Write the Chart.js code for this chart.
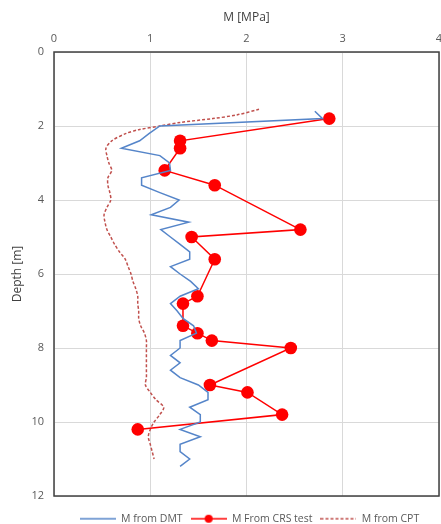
<!DOCTYPE html>
<html>
<head>
<meta charset="utf-8">
<script src="https://cdn.jsdelivr.net/npm/chart.js@4.4.1/dist/chart.umd.min.js"></script>
<style>
  html, body { margin: 0; padding: 0; background: #fff; }
  #wrap { width: 441px; height: 524px; }
</style>
</head>
<body>
<div id="wrap"><canvas id="depthChart"></canvas></div>
<script>
// M from DMT (every 0.2 m)
const dmtDepth = [1.6, 1.8, 2.0, 2.2, 2.4, 2.6, 2.8, 3.0, 3.2, 3.4, 3.6, 3.8, 4.0, 4.2, 4.4, 4.6, 4.8,
  5.0, 5.2, 5.4, 5.6, 5.8, 6.0, 6.2, 6.4, 6.6, 6.8, 7.0, 7.2, 7.4, 7.6, 7.8, 8.0, 8.2, 8.4, 8.6,
  8.8, 9.0, 9.2, 9.4, 9.6, 9.8, 10.0, 10.2, 10.4, 10.6, 10.8, 11.0, 11.2];
const dmtM = [2.71, 2.79, 1.10, 0.99, 0.89, 0.70, 1.10, 1.20, 1.21, 0.91, 0.91, 1.10, 1.30, 1.21, 1.01, 1.40, 1.11,
  1.21, 1.31, 1.41, 1.41, 1.21, 1.31, 1.42, 1.50, 1.31, 1.21, 1.28, 1.34, 1.45, 1.48, 1.31, 1.31, 1.21, 1.31, 1.21,
  1.31, 1.50, 1.60, 1.60, 1.41, 1.52, 1.52, 1.31, 1.52, 1.31, 1.31, 1.41, 1.31];

// M from CRS test
const crsDepth = [1.8, 2.4, 2.6, 3.2, 3.6, 4.8, 5.0, 5.6, 6.6, 6.8, 7.4, 7.6, 7.8, 8.0, 9.0, 9.2, 9.8, 10.2];
const crsM = [2.86, 1.31, 1.31, 1.15, 1.67, 2.56, 1.43, 1.67, 1.49, 1.34, 1.34, 1.49, 1.64, 2.46, 1.62, 2.01, 2.37, 0.87];

// M from CPT
const cptDepth = [1.55, 1.7, 1.8, 1.9, 2.0, 2.1, 2.2, 2.4, 2.6, 2.8, 3.0, 3.2, 3.4, 3.6, 3.8, 4.0, 4.2, 4.4, 4.6, 4.8,
  5.0, 5.2, 5.4, 5.6, 5.8, 6.0, 6.2, 6.4, 6.6, 6.8, 7.0, 7.2, 7.4, 7.6, 7.8, 8.0, 8.2, 8.4, 8.6,
  8.8, 9.0, 9.2, 9.4, 9.6, 9.8, 10.0, 10.2, 10.4, 10.6, 10.8, 11.0];
const cptM = [2.13, 1.90, 1.65, 1.32, 1.10, 0.88, 0.75, 0.60, 0.54, 0.55, 0.57, 0.60, 0.56, 0.56, 0.58, 0.59, 0.55, 0.52, 0.53, 0.55,
  0.59, 0.63, 0.68, 0.74, 0.77, 0.80, 0.82, 0.85, 0.87, 0.87, 0.88, 0.88, 0.90, 0.94, 0.96, 0.96, 0.96, 0.96, 0.96,
  0.96, 0.95, 1.00, 1.06, 1.14, 1.10, 1.04, 1.00, 0.98, 1.00, 1.02, 1.04];

const seriesNames = ["M from DMT", "M From CRS test", "M from CPT"];
const xMin = 0, xMax = 4, xStep = 1;
const yMin = 0, yMax = 12, yStep = 2;

const colors = {
  dmt: "#5585c9",
  crs: "#ff0000",
  cpt: "#c0504d",
  grid: "#d9d9d9",
  tick: "#595959",
  title: "#404040",
};

function toPoints(depths, values) {
  return depths.map((d, i) => ({ x: values[i], y: d }));
}

// small canvas used as legend symbol
function legendIcon(color, dash, dot) {
  const c = document.createElement("canvas");
  c.width = 36;
  c.height = 12;
  const g = c.getContext("2d");
  g.strokeStyle = color;
  g.lineWidth = 1.5;
  g.setLineDash(dash);
  g.beginPath();
  g.moveTo(0, 6);
  g.lineTo(36, 6);
  g.stroke();
  if (dot) {
    g.fillStyle = color;
    g.beginPath();
    g.arc(18, 6, 4, 0, Math.PI * 2);
    g.fill();
  }
  return c;
}

const icons = [
  legendIcon(colors.dmt, [], false),
  legendIcon(colors.crs, [], true),
  legendIcon(colors.cpt, [3, 2], false),
];

// frame round the plot area
const plotFrame = {
  id: "plotFrame",
  beforeDatasetsDraw(chart) {
    const { ctx, chartArea: a } = chart;
    ctx.save();
    ctx.strokeStyle = "#404040";
    ctx.lineWidth = 1.5;
    ctx.strokeRect(a.left, a.top, a.right - a.left, a.bottom - a.top);
    ctx.restore();
  },
};

// stretch the plot to the right edge (the "4" label may be clipped, as in the original)
// and move the legend lower and a bit right
const layoutFix = {
  id: "layoutFix",
  afterLayout(chart) {
    const area = chart.chartArea;
    const xs = chart.scales.x;
    const ys = chart.scales.y;
    const dx = chart.width - 2 - area.right;
    const dy = chart.height - 28 - area.bottom;
    area.right += dx;
    area.width += dx;
    area.bottom += dy;
    area.height += dy;
    xs.right += dx;
    xs.width += dx;
    ys.bottom += dy;
    ys.height += dy;
    xs.configure();
    ys.configure();

    const lg = chart.legend;
    lg.top += 10;
    lg.bottom += 10;
    lg.left += 28;
    lg.right += 28;
  },
};

const fontFamily = "'Open Sans', 'Liberation Sans', sans-serif";

new Chart(document.getElementById("depthChart"), {
  type: "scatter",
  data: {
    datasets: [
      {
        label: seriesNames[0],
        data: toPoints(dmtDepth, dmtM),
        showLine: true,
        borderColor: colors.dmt,
        borderWidth: 1.5,
        pointRadius: 0,
        tension: 0,
      },
      {
        label: seriesNames[1],
        data: toPoints(crsDepth, crsM),
        showLine: true,
        borderColor: colors.crs,
        backgroundColor: colors.crs,
        borderWidth: 1.5,
        pointRadius: 6.3,
        pointBorderWidth: 0,
        tension: 0,
      },
      {
        label: seriesNames[2],
        data: toPoints(cptDepth, cptM),
        showLine: true,
        borderColor: colors.cpt,
        borderWidth: 1.5,
        borderDash: [3, 2],
        pointRadius: 0,
        tension: 0.3,
      },
    ],
  },
  options: {
    responsive: true,
    maintainAspectRatio: false,
    animation: false,
    layout: { padding: { left: 4, right: 2, top: 4, bottom: 0 } },
    plugins: {
      tooltip: { enabled: false },
      legend: {
        position: "bottom",
        labels: {
          usePointStyle: true,
          pointStyleWidth: 36,
          boxHeight: 11,
          padding: 8,
          color: colors.tick,
          font: { family: fontFamily, size: 10.5 },
          generateLabels: () =>
            seriesNames.map((name, i) => ({
              text: name,
              pointStyle: icons[i],
              fontColor: colors.tick,
              datasetIndex: i,
              lineWidth: 0,
            })),
        },
      },
    },
    scales: {
      x: {
        type: "linear",
        position: "top",
        min: xMin,
        max: xMax,
        ticks: { stepSize: xStep, color: colors.tick, padding: 7, font: { family: fontFamily, size: 11 } },
        grid: { color: colors.grid, drawTicks: false },
        border: { display: false },
        title: {
          display: true,
          text: "M [MPa]",
          color: colors.title,
          padding: { top: 6, bottom: 2 },
          font: { family: fontFamily, size: 12 },
        },
        afterFit: (scale) => {
          scale.height = 48;
        },
      },
      y: {
        type: "linear",
        reverse: true,
        min: yMin,
        max: yMax,
        ticks: { stepSize: yStep, color: colors.tick, padding: 10, font: { family: fontFamily, size: 11 } },
        grid: { color: colors.grid, drawTicks: false },
        border: { display: false },
        title: {
          display: true,
          text: "Depth [m]",
          color: colors.title,
          padding: { top: 6, bottom: 6 },
          font: { family: fontFamily, size: 12 },
        },
        afterFit: (scale) => {
          scale.width = 50;
        },
      },
    },
  },
  plugins: [plotFrame, layoutFix],
});
</script>
</body>
</html>
